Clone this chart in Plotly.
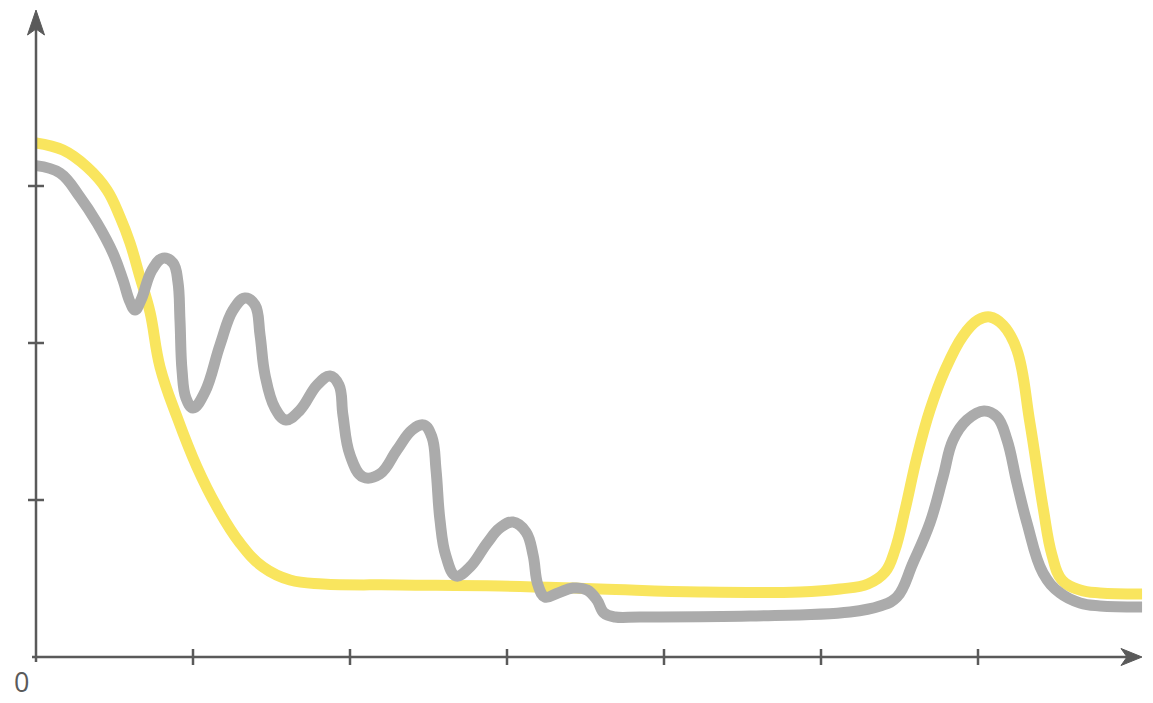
import plotly.graph_objects as go

# ---- data (axis units: one tick = 1) ----
yellow_x = [0.0, 0.172, 0.325, 0.452, 0.535, 0.599, 0.662, 0.726, 0.790, 0.898, 1.025, 1.153,
            1.299, 1.446, 1.618, 1.828, 2.318, 2.955, 3.592, 4.229, 4.866, 5.121, 5.299, 5.408,
            5.471, 5.535, 5.611, 5.694, 5.790, 5.904, 6.000, 6.076, 6.159, 6.248, 6.331, 6.414,
            6.471, 6.535, 6.650, 6.777, 7.045]
yellow_y = [3.274, 3.229, 3.121, 2.975, 2.803, 2.637, 2.420, 2.197, 1.847, 1.529, 1.210, 0.955,
            0.726, 0.573, 0.490, 0.465, 0.459, 0.452, 0.433, 0.414, 0.414, 0.433, 0.465, 0.541,
            0.682, 0.936, 1.274, 1.573, 1.828, 2.045, 2.146, 2.166, 2.115, 1.955, 1.490, 0.955,
            0.650, 0.490, 0.427, 0.408, 0.401]

gray_x = [0.0, 0.153, 0.280, 0.389, 0.490, 0.554, 0.599, 0.631, 0.669, 0.739, 0.809, 0.873,
          0.904, 0.917, 0.930, 0.955, 1.000, 1.076, 1.172, 1.255, 1.331, 1.395, 1.427, 1.459,
          1.522, 1.592, 1.682, 1.790, 1.873, 1.930, 1.955, 2.000, 2.083, 2.191, 2.299, 2.395,
          2.471, 2.522, 2.548, 2.573, 2.611, 2.675, 2.764, 2.873, 2.955, 3.038, 3.121, 3.166,
          3.197, 3.242, 3.325, 3.420, 3.510, 3.573, 3.618, 3.688, 3.847, 4.548, 5.185, 5.376,
          5.484, 5.586, 5.694, 5.777, 5.841, 5.930, 6.038, 6.121, 6.185, 6.248, 6.312, 6.414,
          6.522, 6.650, 6.777, 7.045]
gray_y = [3.130, 3.083, 2.930, 2.764, 2.573, 2.401, 2.261, 2.210, 2.274, 2.465, 2.541, 2.510,
          2.389, 2.146, 1.828, 1.650, 1.586, 1.688, 1.987, 2.210, 2.287, 2.242, 2.051, 1.796,
          1.586, 1.510, 1.573, 1.732, 1.790, 1.732, 1.541, 1.287, 1.146, 1.166, 1.318, 1.446,
          1.478, 1.401, 1.191, 0.873, 0.643, 0.516, 0.573, 0.726, 0.822, 0.860, 0.796, 0.650,
          0.459, 0.382, 0.408, 0.439, 0.427, 0.363, 0.280, 0.255, 0.255, 0.261, 0.287, 0.325,
          0.382, 0.599, 0.854, 1.146, 1.382, 1.510, 1.567, 1.529, 1.382, 1.108, 0.854, 0.535,
          0.408, 0.344, 0.325, 0.318]

x_ticks = [1, 2, 3, 4, 5, 6]
y_ticks = [1, 2, 3]
origin_label = "0"

# ---- layout geometry ----
W, H = 1153, 703
UNIT = 157.0                  # pixels per axis unit
ORIGIN_X, ORIGIN_Y = 36, 657  # origin position inside the figure, pixels


def px(n):
    return n / UNIT


x_range = [-ORIGIN_X / UNIT, (W - ORIGIN_X) / UNIT]
y_range = [-(H - ORIGIN_Y) / UNIT, ORIGIN_Y / UNIT]
x_end = px(1106)   # x-arrow tip
y_end = px(647)    # y-arrow tip

AXIS = "#5a5a5a"
YELLOW = "#F9E55E"
GRAY = "#ABABAB"

fig = go.Figure()
fig.add_trace(go.Scatter(x=yellow_x, y=yellow_y, mode="lines",
                         line=dict(color=YELLOW, width=11, shape="spline", smoothing=1.15),
                         hoverinfo="skip"))
fig.add_trace(go.Scatter(x=gray_x, y=gray_y, mode="lines",
                         line=dict(color=GRAY, width=11, shape="spline", smoothing=1.15),
                         hoverinfo="skip"))

shapes = []
# axis lines
shapes.append(dict(type="line", xref="x", yref="y", x0=-px(4), y0=0, x1=x_end - px(14), y1=0,
                   line=dict(color=AXIS, width=2.5)))
shapes.append(dict(type="line", xref="x", yref="y", x0=0, y0=-px(5), x1=0, y1=y_end - px(16),
                   line=dict(color=AXIS, width=2.5)))
# ticks
for t in x_ticks:
    shapes.append(dict(type="line", xref="x", yref="y", x0=t, x1=t, y0=-px(8), y1=px(8),
                       line=dict(color=AXIS, width=2.5)))
for t in y_ticks:
    shapes.append(dict(type="line", xref="x", yref="y", x0=-px(8), x1=px(8), y0=t, y1=t,
                       line=dict(color=AXIS, width=2.5)))
# arrowheads
tx = x_end
shapes.append(dict(type="path", xref="x", yref="y",
                   path=(f"M {tx} 0 L {tx - px(21)} {px(8.5)} L {tx - px(15)} 0 "
                         f"L {tx - px(21)} {-px(8.5)} Z"),
                   fillcolor=AXIS, line=dict(color=AXIS, width=1)))
ty = y_end
shapes.append(dict(type="path", xref="x", yref="y",
                   path=(f"M 0 {ty} L {-px(8.5)} {ty - px(25)} L 0 {ty - px(19)} "
                         f"L {px(8.5)} {ty - px(25)} Z"),
                   fillcolor=AXIS, line=dict(color=AXIS, width=1)))

fig.update_layout(
    width=W, height=H,
    margin=dict(l=0, r=0, t=0, b=0),
    paper_bgcolor="white", plot_bgcolor="white",
    showlegend=False,
    shapes=shapes,
    xaxis=dict(range=x_range, visible=False, fixedrange=True),
    yaxis=dict(range=y_range, visible=False, fixedrange=True),
    annotations=[dict(text=origin_label, xref="x", yref="y", x=-px(15), y=-px(44),
                      yanchor="bottom", xanchor="center", borderpad=0,
                      showarrow=False,
                      font=dict(family="Open Sans", size=27, color=AXIS))],
)

fig.write_html(
    "out.html",
    config={"displayModeBar": False},
    post_script="document.body.style.margin='0';document.body.style.overflow='hidden';",
)
